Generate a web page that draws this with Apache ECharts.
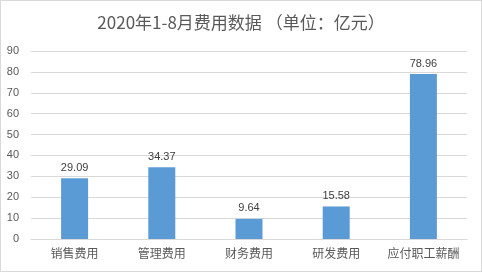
<!DOCTYPE html>
<html><head><meta charset="utf-8">
<script src="https://cdn.jsdelivr.net/npm/echarts@6/dist/echarts.min.js"></script>
<style>html,body{margin:0;padding:0;background:#fff;}#c{width:480px;height:270px;border:1px solid #d9d9d9;}</style>
</head><body><div id="c"></div>
<script>
const categories = ['销售费用','管理费用','财务费用','研发费用','应付职工薪酬'];
const values = [29.09, 34.37, 9.64, 15.58, 78.96];
const chart = echarts.init(document.getElementById('c'));
chart.setOption({
  animation:false,
  title:{text:'2020年1-8月费用数据 （单位：亿元）',left:'center',top:8,textStyle:{fontFamily:'Noto Sans CJK SC',fontSize:17,fontWeight:'normal',color:'#595959'}},
  grid:{left:30,right:14,top:50,bottom:32},
  xAxis:{type:'category',data:categories,axisLine:{lineStyle:{color:'#d9d9d9'}},axisTick:{show:false},axisLabel:{interval:0,color:'#595959',fontSize:12,fontFamily:'Noto Sans CJK SC',margin:8}},
  yAxis:{type:'value',min:0,max:90,interval:10,axisLine:{show:false},axisTick:{show:false},splitLine:{lineStyle:{color:'#d9d9d9'}},axisLabel:{color:'#595959',fontSize:11,margin:12}},
  series:[{type:'bar',data:values,barWidth:27,itemStyle:{color:'#5B9BD5'},label:{show:true,position:'top',color:'#404040',fontSize:11,formatter:p=>p.value.toFixed(2)}}]
});
</script></body></html>
